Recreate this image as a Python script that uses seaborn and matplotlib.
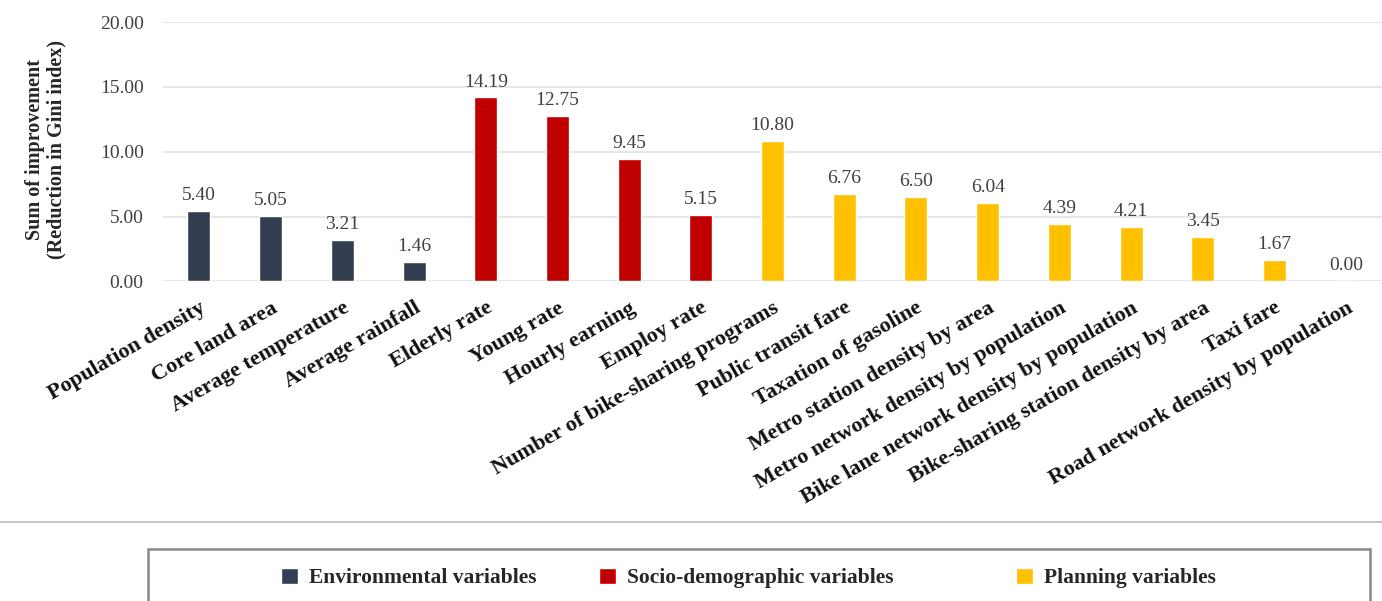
import pandas as pd
import seaborn as sns
import matplotlib.pyplot as plt
from matplotlib.patches import Rectangle
from matplotlib.lines import Line2D

# Datos del grafico
variables = [
    "Population density", "Core land area", "Average temperature", "Average rainfall",
    "Elderly rate", "Young rate", "Hourly earning", "Employ rate",
    "Number of bike-sharing programs", "Public transit fare", "Taxation of gasoline",
    "Metro station density by area", "Metro network density by population",
    "Bike lane network density by population", "Bike-sharing station density by area",
    "Taxi fare", "Road network density by population",
]
valores = [5.40, 5.05, 3.21, 1.46, 14.19, 12.75, 9.45, 5.15, 10.80, 6.76, 6.50,
           6.04, 4.39, 4.21, 3.45, 1.67, 0.00]
grupos = (["Environmental variables"] * 4
          + ["Socio-demographic variables"] * 4
          + ["Planning variables"] * 9)
cores = {
    "Environmental variables": "#333F50",
    "Socio-demographic variables": "#C00000",
    "Planning variables": "#FFC000",
}

df = pd.DataFrame({"Variavel": variables, "Valor": valores, "Grupo": grupos})

sns.set_style("white")
plt.rcParams["font.family"] = ["Liberation Serif", "DejaVu Serif"]

fig = plt.figure(figsize=(13.82, 6.01), dpi=100)
ax = fig.add_axes([0.118, 0.532, 0.882, 0.431])

sns.barplot(data=df, x="Variavel", y="Valor", hue="Grupo", palette=cores,
            dodge=False, width=0.32, saturation=1, ax=ax)

# rotulos de valor
for cont in ax.containers:
    ax.bar_label(cont, fmt="%.2f", padding=5, fontsize=14, color="#404040")

ax.set_ylim(0, 20)
ax.set_yticks([0, 5, 10, 15, 20])
ax.set_yticklabels([f"{v:.2f}" for v in [0, 5, 10, 15, 20]], fontsize=14, color="#404040")
ax.set_xlim(-0.5, len(variables) - 0.5)
ax.yaxis.grid(True, color="#E3E3E3", linewidth=1.2)
ax.set_axisbelow(True)
for s in ax.spines.values():
    s.set_visible(False)
ax.tick_params(axis="y", length=0, pad=14)
ax.tick_params(axis="x", length=0, pad=12)

ax.set_xticks(range(len(variables)))
ax.set_xticklabels(variables, rotation=30, ha="right", rotation_mode="anchor",
                   fontsize=16, fontweight="bold", color="#111111")
ax.set_xlabel("")
ax.set_ylabel("Sum of improvement\n(Reduction in Gini index)", fontsize=14.5,
              fontweight="bold", linespacing=1.1)
ax.yaxis.set_label_coords(-0.079, 0.51)

# legenda: tres entradas posicionadas como no original
handles, labels = ax.get_legend_handles_labels()
ax.get_legend().remove()
pos_x = [281 / 1382, 599 / 1382, 1016 / 1382]
for h, l, x in zip(handles, labels, pos_x):
    fig.legend([h], [l], loc="center left", bbox_to_anchor=(x, 1 - 578 / 601),
               frameon=False, prop={"weight": "bold", "size": 15.5},
               handlelength=0.8, handleheight=0.8, handletextpad=0.5,
               borderaxespad=0, borderpad=0)

# linha horizontal e caixa da legenda
fig.add_artist(Line2D([0, 1], [1 - 522 / 601, 1 - 522 / 601], transform=fig.transFigure,
                      color="#BBBBBB", linewidth=1.2))
fig.add_artist(Rectangle((148 / 1382, -0.05), (1370 - 148) / 1382, 0.05 + (601 - 549) / 601,
                         transform=fig.transFigure, fill=False, edgecolor="#888888",
                         linewidth=1.8))

fig.savefig("out.png", dpi=100)
